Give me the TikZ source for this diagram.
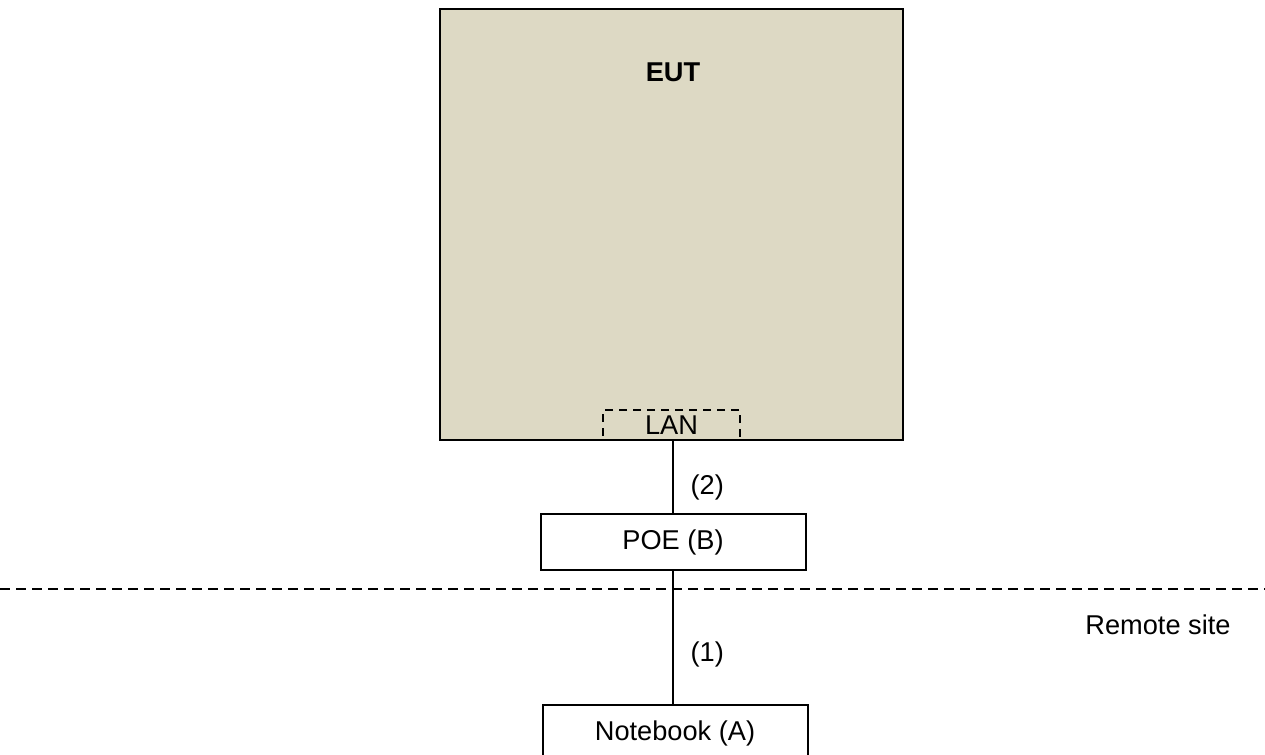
\documentclass[tikz,border=0pt]{standalone}
\usepackage{fontspec}
\setmainfont{Liberation Sans}
\usetikzlibrary{positioning}
\definecolor{eutfill}{RGB}{221,217,196}

\begin{document}
\begin{tikzpicture}[%
        x=0.5pt, y=-0.5pt,
        eutbox/.style={
            % the shape:
            rectangle,
            % the rest:
            line width=1pt,
            draw=black,
            fill=eutfill,
            minimum width=231.5pt,
            minimum height=215.5pt,
            inner sep=0pt,
        },
        portbox/.style={
            rectangle,
            line width=0.7pt,
            draw=black,
            dash pattern=on 4pt off 3pt,
            minimum width=68.5pt,
            minimum height=15pt,
            inner sep=0pt,
            font=\fontsize{13.6}{16}\selectfont,
        },
        device/.style={
            rectangle,
            line width=1pt,
            draw=black,
            fill=white,
            minimum width=132.5pt,
            minimum height=28pt,
            inner sep=0pt,
            font=\fontsize{13.6}{16}\selectfont,
        },
        cable/.style={line width=0.9pt},
        cablelabel/.style={right, xshift=5pt, font=\fontsize{13.6}{16}\selectfont},
        siteline/.style={line width=0.8pt, dash pattern=on 5pt off 3pt},
    ]

    \useasboundingbox (0,0) rectangle (1265,755);

    % equipment under test
    \node[eutbox] (eut) at (671.5,224.5) {};
    \node[font=\bfseries\fontsize{13.6}{16}\selectfont] (euttitle) at (673,72) {EUT};
    \node[portbox] (lan) at (671.5,425) {LAN};

    % devices
    \node[device] (poe) at (673,542) {POE (B)};
    \node[device] (nb) at (675,733) {Notebook (A)};

    % cables
    \draw[cable] (poe.north) -- node[cablelabel, pos=0.36] {(2)} (poe.north |- lan.south);
    \draw[cable] (poe.south) -- node[cablelabel, pos=0.63] {(1)} (poe.south |- nb.north);

    % site border
    \coordinate (siteW) at (0,589);
    \coordinate (siteE) at (1265,589);
    \draw[siteline] (siteW) -- (siteE);
    \node[font=\fontsize{13.6}{16}\selectfont] (remote) at (1158,625) {Remote site};

\end{tikzpicture}
\end{document}
